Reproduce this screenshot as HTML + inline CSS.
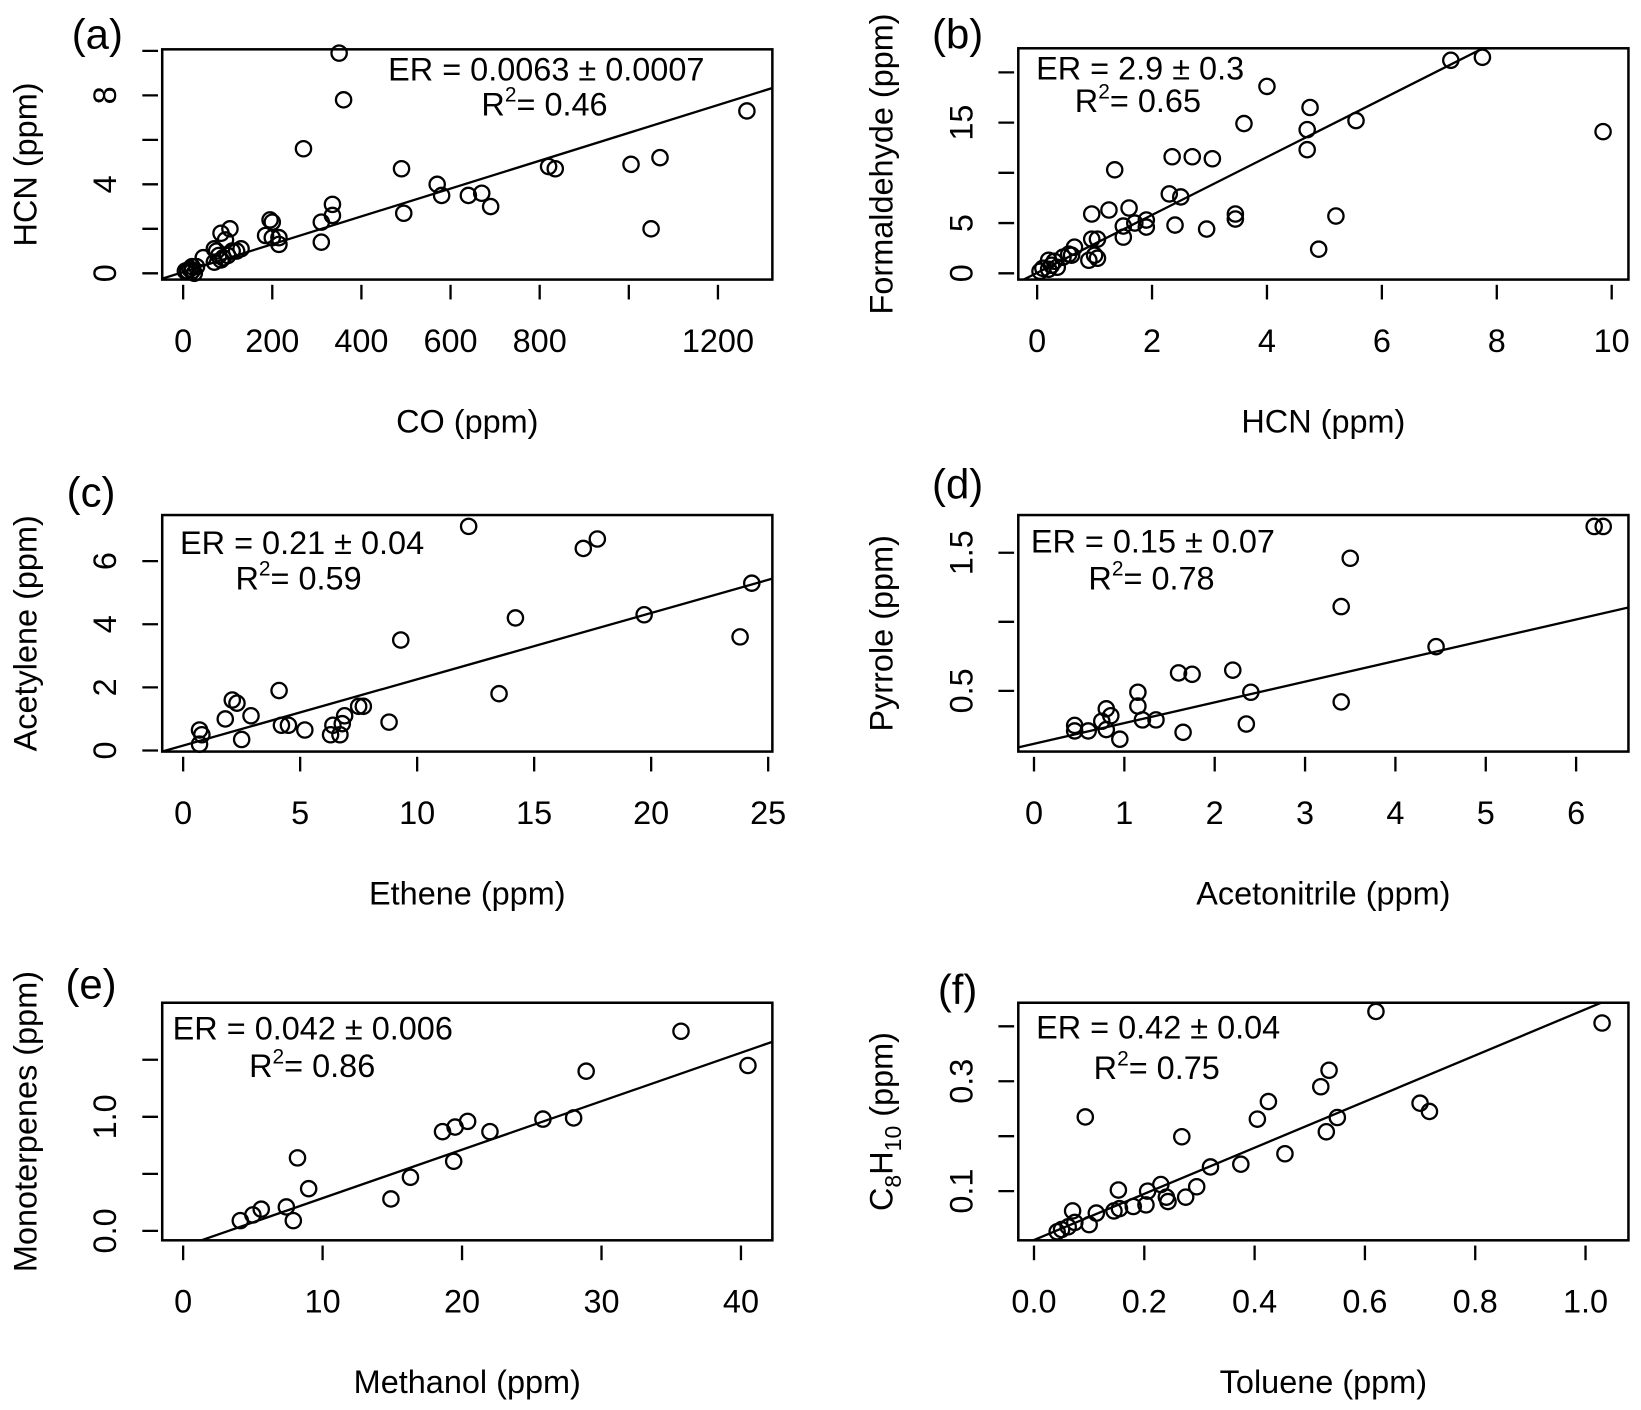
<!DOCTYPE html>
<html><head><meta charset="utf-8"><style>
html,body{margin:0;padding:0;background:#fff}
svg{display:block}
text{font-family:"Liberation Sans",Arial,sans-serif;fill:#000}
</style></head><body>
<svg id="fig" width="1641" height="1410" viewBox="0 0 1568 1347" xmlns="http://www.w3.org/2000/svg"></svg>
<script>
// ---- data ----
const aX=[350,360,270,1265,490,1005,1070,820,835,570,580,640,670,690,495,1050,335,335,310,310,195,200,185,200,215,215,105,85,95,70,75,80,90,100,120,130,110,70,85,45,20,15,10,5,25,30,20];
const aY=[9.9,7.8,5.6,7.3,4.7,4.9,5.2,4.8,4.7,4.0,3.5,3.5,3.6,3.0,2.7,2.0,3.1,2.6,2.3,1.4,2.4,2.3,1.7,1.6,1.6,1.3,2.0,1.8,1.5,1.1,1.0,0.8,0.7,0.8,1.0,1.1,1.0,0.5,0.6,0.7,0.3,0.2,0.1,0.1,0.0,0.3,0.1];
const bX=[7.2,7.75,4.0,4.75,3.6,5.55,4.7,4.7,9.85,1.35,2.35,2.7,3.05,2.3,2.5,1.6,1.25,0.95,3.45,3.45,5.2,4.9,2.4,2.95,1.9,1.7,1.5,1.9,1.5,1.05,0.95,1.0,0.9,1.05,0.65,0.6,0.55,0.45,0.3,0.2,0.25,0.1,0.05,0.2,0.35];
const bY=[21.2,21.5,18.6,16.5,14.9,15.2,14.3,12.3,14.1,10.3,11.6,11.6,11.4,7.9,7.6,6.5,6.3,5.9,5.9,5.4,5.7,2.4,4.8,4.4,5.3,5.0,4.7,4.6,3.6,3.4,3.4,1.8,1.3,1.5,2.6,1.8,1.9,1.6,1.2,1.3,0.8,0.5,0.2,0.4,0.6];
const cX=[12.2,17.7,17.1,24.3,19.7,14.2,23.8,9.3,13.5,4.1,2.1,2.3,1.8,2.9,7.7,7.5,6.9,6.8,8.8,6.4,4.2,4.5,5.2,6.3,6.7,2.5,0.7,0.8,0.7];
const cY=[7.1,6.7,6.4,5.3,4.3,4.2,3.6,3.5,1.8,1.9,1.6,1.5,1.0,1.1,1.4,1.4,1.1,0.85,0.9,0.8,0.8,0.8,0.65,0.5,0.5,0.35,0.65,0.5,0.2];
const dX=[6.2,6.3,3.5,3.4,4.45,1.6,1.75,2.2,2.4,1.15,1.15,0.8,0.85,0.75,0.8,1.2,1.35,2.35,3.4,1.65,0.95,0.45,0.45,0.6];
const dY=[1.69,1.69,1.46,1.11,0.82,0.63,0.62,0.65,0.49,0.49,0.39,0.37,0.32,0.28,0.22,0.29,0.29,0.26,0.42,0.20,0.15,0.25,0.21,0.21];
const eX=[35.7,40.5,28.9,8.2,9.0,18.6,19.5,20.4,22.0,25.8,28.0,19.4,16.3,14.9,7.4,5.6,5.0,4.1,7.9];
const eY=[1.75,1.45,1.40,0.64,0.37,0.87,0.91,0.96,0.87,0.98,0.99,0.61,0.47,0.28,0.21,0.19,0.14,0.09,0.09];
const fX=[0.62,1.03,0.535,0.52,0.425,0.405,0.093,0.70,0.717,0.55,0.53,0.268,0.455,0.375,0.32,0.153,0.23,0.206,0.295,0.24,0.275,0.243,0.203,0.18,0.155,0.145,0.113,0.07,0.1,0.074,0.062,0.05,0.042];
const fY=[0.427,0.406,0.32,0.29,0.263,0.231,0.235,0.26,0.245,0.234,0.208,0.199,0.168,0.149,0.144,0.102,0.112,0.10,0.108,0.089,0.089,0.081,0.075,0.072,0.068,0.064,0.06,0.064,0.039,0.043,0.035,0.03,0.026];
const fitSlope=[0.00626,2.88,0.21,0.150,0.0425,0.42];
const fitIntercept=[0.054,0.05,0.157,0.117,-0.138,0.011];
const xTicks=[[0,200,400,600,800,1000,1200],[0,2,4,6,8,10],[0,5,10,15,20,25],[0,1,2,3,4,5,6],[0,10,20,30,40],[0,0.2,0.4,0.6,0.8,1.0]];
const xTickLabels=[["0","200","400","600","800","","1200"],["0","2","4","6","8","10"],["0","5","10","15","20","25"],["0","1","2","3","4","5","6"],["0","10","20","30","40"],["0.0","0.2","0.4","0.6","0.8","1.0"]];
const yTicks=[[0,2,4,6,8,10],[0,5,10,15,20],[0,2,4,6],[0.5,1.0,1.5],[0,0.5,1.0,1.5],[0.1,0.2,0.3,0.4]];
const yTickLabels=[["0","","4","","8",""],["0","5","","15",""],["0","2","4","6"],["0.5","","1.5"],["0.0","","1.0",""],["0.1","","0.3",""]];
const xLabels=["CO (ppm)","HCN (ppm)","Ethene (ppm)","Acetonitrile (ppm)","Methanol (ppm)","Toluene (ppm)"];
const yLabels=["HCN (ppm)","Formaldehyde (ppm)","Acetylene (ppm)","Pyrrole (ppm)","Monoterpenes (ppm)","C8H10 (ppm)"];
const erText=["ER = 0.0063 ± 0.0007","ER = 2.9 ± 0.3","ER = 0.21 ± 0.04","ER = 0.15 ± 0.07","ER = 0.042 ± 0.006","ER = 0.42 ± 0.04"];
const r2Text=["= 0.46","= 0.65","= 0.59","= 0.78","= 0.86","= 0.75"];
const letters=["(a)","(b)","(c)","(d)","(e)","(f)"];
const seriesX=[aX,bX,cX,dX,eX,fX];
const seriesY=[aY,bY,cY,dY,eY,fY];

// ---- layout (pixel geometry) ----
const layout=[
 {x0:155,x1:738,y0:47,y1:267, xa:[0,175,1200,686], ya:[0,261,8,91], er:[522,66,'middle'], r2:[460,99], let:[93,32]},
 {x0:973,x1:1556,y0:46,y1:267, xa:[0,991,10,1540], ya:[0,261,20,69], er:[990,65,'start'], r2:[1027,96], let:[915,32]},
 {x0:155,x1:738,y0:492,y1:718, xa:[0,175,25,734], ya:[0,717,6,536], er:[172,518,'start'], r2:[225,552], let:[87,470]},
 {x0:973,x1:1556,y0:492,y1:718, xa:[0,988,6,1506], ya:[0.5,660,1.5,528], er:[985,517,'start'], r2:[1040,552], let:[915,462]},
 {x0:155,x1:738,y0:958,y1:1185, xa:[0,175,40,708], ya:[0,1176,1,1067], er:[165,982,'start'], r2:[238,1018], let:[87,940]},
 {x0:973,x1:1556,y0:958,y1:1185, xa:[0,988,1,1515], ya:[0.1,1138,0.3,1033], er:[990,981,'start'], r2:[1045,1020], let:[915,945]}
];
const NS='http://www.w3.org/2000/svg';
const svg=document.getElementById('fig');
function mk(tag,attrs,parent){const e=document.createElementNS(NS,tag);for(const k in attrs)e.setAttribute(k,attrs[k]);(parent||svg).appendChild(e);return e;}
function lin(a){return v=>a[1]+(v-a[0])*(a[3]-a[1])/(a[2]-a[0]);}
const FS=31;
layout.forEach((L,i)=>{
  const g=mk('g',{});
  
  
  const sx=lin(L.xa), sy=lin(L.ya);
  const cid='clip'+i;
  const cp=mk('clipPath',{id:cid},g);
  mk('rect',{x:L.x0,y:L.y0,width:L.x1-L.x0,height:L.y1-L.y0},cp);
  const pg=mk('g',{},g);
  
  
  seriesX[i].forEach((xv,j)=>{
    const c=mk('circle',{cx:sx(xv),cy:sy(seriesY[i][j]),r:7.3,fill:'none',stroke:'#000','stroke-width':2.2},pg);
    
    
  });
  const xs=[(L.x0-L.xa[1])/(L.xa[3]-L.xa[1])*(L.xa[2]-L.xa[0])+L.xa[0],(L.x1-L.xa[1])/(L.xa[3]-L.xa[1])*(L.xa[2]-L.xa[0])+L.xa[0]];
  const ln=mk('line',{x1:sx(xs[0]),y1:sy(fitIntercept[i]+fitSlope[i]*xs[0]),x2:sx(xs[1]),y2:sy(fitIntercept[i]+fitSlope[i]*xs[1]),stroke:'#000','stroke-width':2.2,'clip-path':'url(#'+cid+')'},g);
  
  
  const bx=mk('rect',{x:L.x0,y:L.y0,width:L.x1-L.x0,height:L.y1-L.y0,fill:'none',stroke:'#000','stroke-width':2.4},g);
  
  
  xTicks[i].forEach((t,k)=>{
    const x=sx(t);
    mk('line',{x1:x,x2:x,y1:L.y1+5,y2:L.y1+19,stroke:'#000','stroke-width':2.2},g);
    if(xTickLabels[i][k]){const tx=mk('text',{x:x,y:L.y1+69,'text-anchor':'middle','font-size':FS},g);tx.textContent=xTickLabels[i][k];
      
      }
  });
  yTicks[i].forEach((t,k)=>{
    const y=sy(t);
    mk('line',{x1:L.x0-19,x2:L.x0-4,y1:y,y2:y,stroke:'#000','stroke-width':2.2},g);
    if(yTickLabels[i][k]){const tx=mk('text',{x:0,y:0,'text-anchor':'middle','font-size':FS,transform:`translate(${L.x0-44},${y}) rotate(-90)`},g);tx.textContent=yTickLabels[i][k];
      
      }
  });
  const xl=mk('text',{x:(L.x0+L.x1)/2,y:L.y1+146,'text-anchor':'middle','font-size':FS},g);
  xl.textContent=xLabels[i];
  
  
  const yl=mk('text',{x:0,y:0,'text-anchor':'middle','font-size':FS,transform:`translate(${L.x0-120},${(L.y0+L.y1)/2}) rotate(-90)`},g);
  
  
  if(i===5){yl.textContent='C';const s=mk('tspan',{'font-size':22,dy:8},yl);s.textContent='8';const h=mk('tspan',{dy:-8},yl);h.textContent='H';const s2=mk('tspan',{'font-size':22,dy:8},yl);s2.textContent='10';const r=mk('tspan',{dy:-8},yl);r.textContent=' (ppm)';}
  else yl.textContent=yLabels[i];
  const er=mk('text',{x:L.er[0],y:L.er[1]+11,'text-anchor':L.er[2],'font-size':FS},g);
  er.textContent=erText[i];
  
  
  const r2=mk('text',{x:L.r2[0],y:L.r2[1]+11,'font-size':FS},g);
  
  
  r2.textContent='R';const sp=mk('tspan',{'font-size':20,dy:-13},r2);sp.textContent='2';const rest=mk('tspan',{dy:13},r2);rest.textContent=r2Text[i];
  const lt=mk('text',{x:L.let[0],y:L.let[1]+14,'text-anchor':'middle','font-size':40},g);
  lt.textContent=letters[i];
  
  
});
</script>
</body></html>
